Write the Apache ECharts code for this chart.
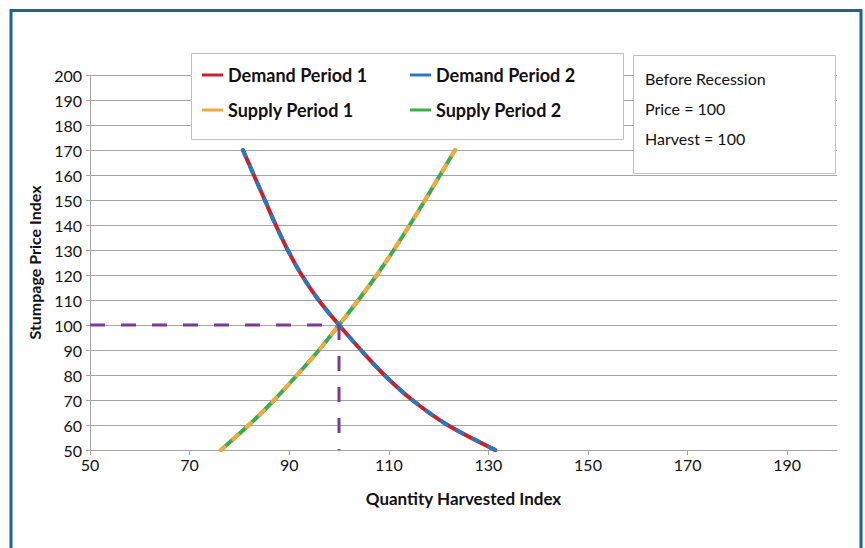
<!DOCTYPE html>
<html>
<head>
<meta charset="utf-8">
<script src="https://cdn.jsdelivr.net/npm/echarts@6/dist/echarts.min.js"></script>
<style>
  html, body { margin: 0; padding: 0; background: #fff; }
  #chart { width: 865px; height: 548px; }
</style>
</head>
<body>
<div id="chart"></div>
<script>
// values
const priceLevels = [170, 160, 150, 140, 130, 120, 110, 100, 90, 80, 70, 60, 50]
const demandPeriod1Qty = [80.7, 82.9, 85.1, 87.3, 89.7, 92.5, 95.9, 100, 104.4, 109.1, 114.7, 121.8, 131.4]
const demandPeriod2Qty = [80.7, 82.9, 85.1, 87.3, 89.7, 92.5, 95.9, 100, 104.4, 109.1, 114.7, 121.8, 131.4]
const supplyPeriod1Qty = [123.3, 120.3, 117.3, 114.2, 111.0, 107.6, 103.9, 100, 96.0, 91.6, 87.0, 81.9, 76.3]
const supplyPeriod2Qty = [123.3, 120.3, 117.3, 114.2, 111.0, 107.6, 103.9, 100, 96.0, 91.6, 87.0, 81.9, 76.3]
const xTicks = [50, 70, 90, 110, 130, 150, 170, 190]
const eqPrice = 100
const eqQty = 100
const noteLines = ['Before Recession', 'Price = 100', 'Harvest = 100']

const pairs = qty => qty.map((q, i) => [q, priceLevels[i]])

const font = 'Lato'
const curve = (name, qty, color, dashed, z) => ({
  name: name,
  type: 'line',
  data: pairs(qty),
  smooth: 0.3,
  symbol: 'none',
  z: z,
  lineStyle: {
    color: color,
    width: 4,
    type: dashed ? [6, 12] : 'solid',
    cap: 'round',
  },
  itemStyle: { color: color },
})

const guide = data => ({
  type: 'line',
  data: data,
  symbol: 'none',
  z: 5,
  silent: true,
  lineStyle: { color: '#7b3a98', width: 3, type: [15, 16] },
})

const legendText = { fontFamily: font, fontWeight: 'bold', fontSize: 18, color: '#111' }

const options = {
  animation: false,
  grid: { left: 90, right: 28, top: 75, bottom: 98 },
  graphic: [
    {
      type: 'rect',
      shape: { x: 11, y: 10.5, width: 850, height: 560 },
      style: { fill: 'none', stroke: '#1b6596', lineWidth: 3 },
      z: 10,
    },
    {
      type: 'rect',
      shape: { x: 191.5, y: 53.5, width: 432, height: 86 },
      style: { fill: '#fff', stroke: '#bfbfbf', lineWidth: 1 },
      z: 3,
    },
    {
      type: 'rect',
      shape: { x: 633.5, y: 55.5, width: 202, height: 118 },
      style: { fill: '#fff', stroke: '#bfbfbf', lineWidth: 1 },
      z: 3,
    },
    {
      type: 'text',
      left: 645,
      top: 63,
      z: 4,
      style: {
        text: noteLines.join('\n'),
        font: '16px ' + font,
        lineHeight: 30,
        fill: '#111',
      },
    },
  ],
  legend: [
    {
      left: 197, top: 61, orient: 'vertical', itemGap: 17,
      itemWidth: 21, itemHeight: 3, icon: 'rect',
      data: ['Demand Period 1', 'Supply Period 1'],
      textStyle: legendText,
    },
    {
      left: 405, top: 61, orient: 'vertical', itemGap: 17,
      itemWidth: 21, itemHeight: 3, icon: 'rect',
      data: ['Demand Period 2', 'Supply Period 2'],
      textStyle: legendText,
    },
  ],
  xAxis: {
    type: 'value',
    min: 50,
    max: 200,
    name: 'Quantity Harvested Index',
    nameLocation: 'middle',
    nameGap: 40,
    nameTextStyle: { fontFamily: font, fontWeight: 'bold', fontSize: 17, color: '#111' },
    axisLine: { show: true, lineStyle: { color: '#a6a6a6' } },
    axisTick: { show: true, length: 5, customValues: xTicks, lineStyle: { color: '#a6a6a6' } },
    axisLabel: { customValues: xTicks, margin: 6, fontFamily: font, fontSize: 16, color: '#111' },
    splitLine: { show: false },
  },
  yAxis: {
    type: 'value',
    min: 50,
    max: 200,
    interval: 10,
    name: 'Stumpage Price Index',
    nameLocation: 'middle',
    nameRotate: 90,
    nameGap: 48,
    nameTextStyle: { fontFamily: font, fontWeight: 'bold', fontSize: 16, color: '#111' },
    axisLine: { show: true, lineStyle: { color: '#a6a6a6' } },
    axisTick: { show: true, length: 4, lineStyle: { color: '#a6a6a6' } },
    axisLabel: { margin: 8, fontFamily: font, fontSize: 16, color: '#111' },
    splitLine: { show: true, lineStyle: { color: '#a6a6a6', width: 1 } },
  },
  series: [
    curve('Demand Period 1', demandPeriod1Qty, '#c8202f', false, 2),
    curve('Demand Period 2', demandPeriod2Qty, '#2a78c2', true, 3),
    curve('Supply Period 2', supplyPeriod2Qty, '#3cae49', false, 2),
    curve('Supply Period 1', supplyPeriod1Qty, '#f9a83e', true, 3),
    guide([[50, eqPrice], [eqQty, eqPrice]]),
    guide([[eqQty, eqPrice], [eqQty, 50]]),
  ],
}

const chart = echarts.init(document.getElementById('chart'), null, { renderer: 'svg' })
chart.setOption(options)
window.onresize = function () {
  chart.resize()
}
</script>
</body>
</html>
